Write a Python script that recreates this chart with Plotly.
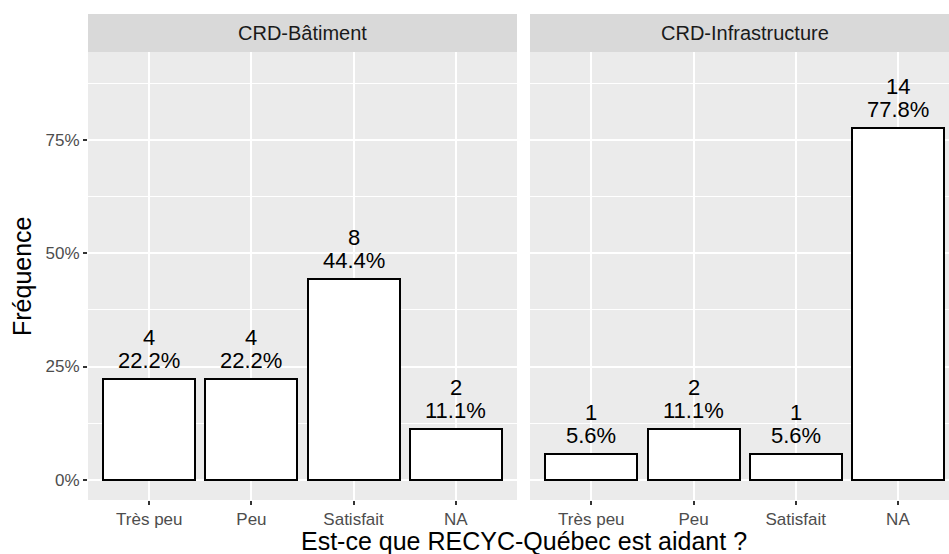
import plotly.graph_objects as go

categories = ["Très peu", "Peu", "Satisfait", "NA"]
facets = ["CRD-Bâtiment", "CRD-Infrastructure"]
counts_bat = [4, 4, 8, 2]
pct_bat = [22.2, 22.2, 44.4, 11.1]
counts_inf = [1, 2, 1, 14]
pct_inf = [5.6, 11.1, 5.6, 77.8]
y_ticks = [0, 0.25, 0.5, 0.75]
y_tick_labels = ["0%", "25%", "50%", "75%"]

W, H = 949, 554
L, R, T, B = 88, 0, 52, H - 500
PW, PH = W - L - R, H - T - B


def px_x(p):
    return (p - L) / PW


def px_y(p):
    return (H - B - p) / PH


FONT = "Liberation Sans, Arial, sans-serif"
dom1 = [0, px_x(517)]
dom2 = [px_x(530), 1]
right_end = (949 - 530) / 102.2 - 0.6  # second panel is cut by the image edge

fig = go.Figure()
panels = [(counts_bat, pct_bat, "x", "y"), (counts_inf, pct_inf, "x2", "y2")]
for counts, pct, xa, ya in panels:
    fig.add_trace(go.Bar(
        x=categories, y=[p / 100 for p in pct], xaxis=xa, yaxis=ya,
        width=0.9, marker=dict(color="white", line=dict(color="black", width=2)),
        showlegend=False, hoverinfo="skip"
    ))
    for c, n, p in zip(categories, counts, pct):
        fig.add_annotation(x=c, y=p / 100, xref=xa, yref=ya, text=f"{p:.1f}%",
                           showarrow=False, xanchor="center", yanchor="bottom", yshift=4,
                           font=dict(size=22, color="black", family=FONT))
        fig.add_annotation(x=c, y=p / 100, xref=xa, yref=ya, text=str(n),
                           showarrow=False, xanchor="center", yanchor="bottom", yshift=27,
                           font=dict(size=22, color="black", family=FONT))

xcommon = dict(type="category", showgrid=True, gridcolor="white", gridwidth=2,
               ticks="outside", ticklen=4, tickwidth=1.5, tickcolor="#333333",
               tickfont=dict(size=17, color="#4D4D4D", family=FONT),
               zeroline=False, showline=False, fixedrange=True)
ycommon = dict(range=[-0.045, 0.945], tickvals=y_ticks, showgrid=True,
               gridcolor="white", gridwidth=2, zeroline=False, showline=False,
               minor=dict(tickvals=[0.125, 0.375, 0.625, 0.875], showgrid=True,
                          gridcolor="white", gridwidth=1, ticks=""),
               fixedrange=True)

fig.update_layout(
    width=W, height=H,
    margin=dict(l=L, r=R, t=T, b=B),
    paper_bgcolor="white", plot_bgcolor="#EBEBEB",
    bargap=0,
    xaxis=dict(domain=dom1, range=[-0.6, 3.6], anchor="y", **xcommon),
    xaxis2=dict(domain=dom2, range=[-0.6, right_end], anchor="y2", **xcommon),
    yaxis=dict(anchor="x", ticktext=y_tick_labels, ticks="outside", ticklen=4,
               tickwidth=1.5, tickcolor="#333333",
               tickfont=dict(size=17, color="#4D4D4D", family=FONT), **ycommon),
    yaxis2=dict(anchor="x2", showticklabels=False, ticks="", **ycommon),
)

# facet strips
strip_centres = [(88 + 517) / 2, (530 + 959) / 2]
for dom, name, cx in zip([dom1, dom2], facets, strip_centres):
    fig.add_shape(type="rect", xref="paper", yref="paper", x0=dom[0], x1=dom[1],
                  y0=1, y1=px_y(14), fillcolor="#D9D9D9", line=dict(width=0))
    fig.add_annotation(x=px_x(cx), y=px_y(33), xref="paper", yref="paper", text=name,
                       showarrow=False, xanchor="center", yanchor="middle",
                       font=dict(size=20, color="#1A1A1A", family=FONT))

fig.add_annotation(x=px_x(524), y=px_y(541), xref="paper", yref="paper",
                   text="Est-ce que RECYC-Québec est aidant ?", showarrow=False,
                   xanchor="center", yanchor="middle",
                   font=dict(size=25, color="black", family=FONT))
fig.add_annotation(x=px_x(22), y=px_y(276), xref="paper", yref="paper",
                   text="Fréquence", textangle=-90, showarrow=False,
                   xanchor="center", yanchor="middle",
                   font=dict(size=25, color="black", family=FONT))

# drop the default 8px page margin so the figure sits at the window's corner
fig.write_html("out.html", config={"displayModeBar": False},
               post_script="document.body.style.margin = '0';")
